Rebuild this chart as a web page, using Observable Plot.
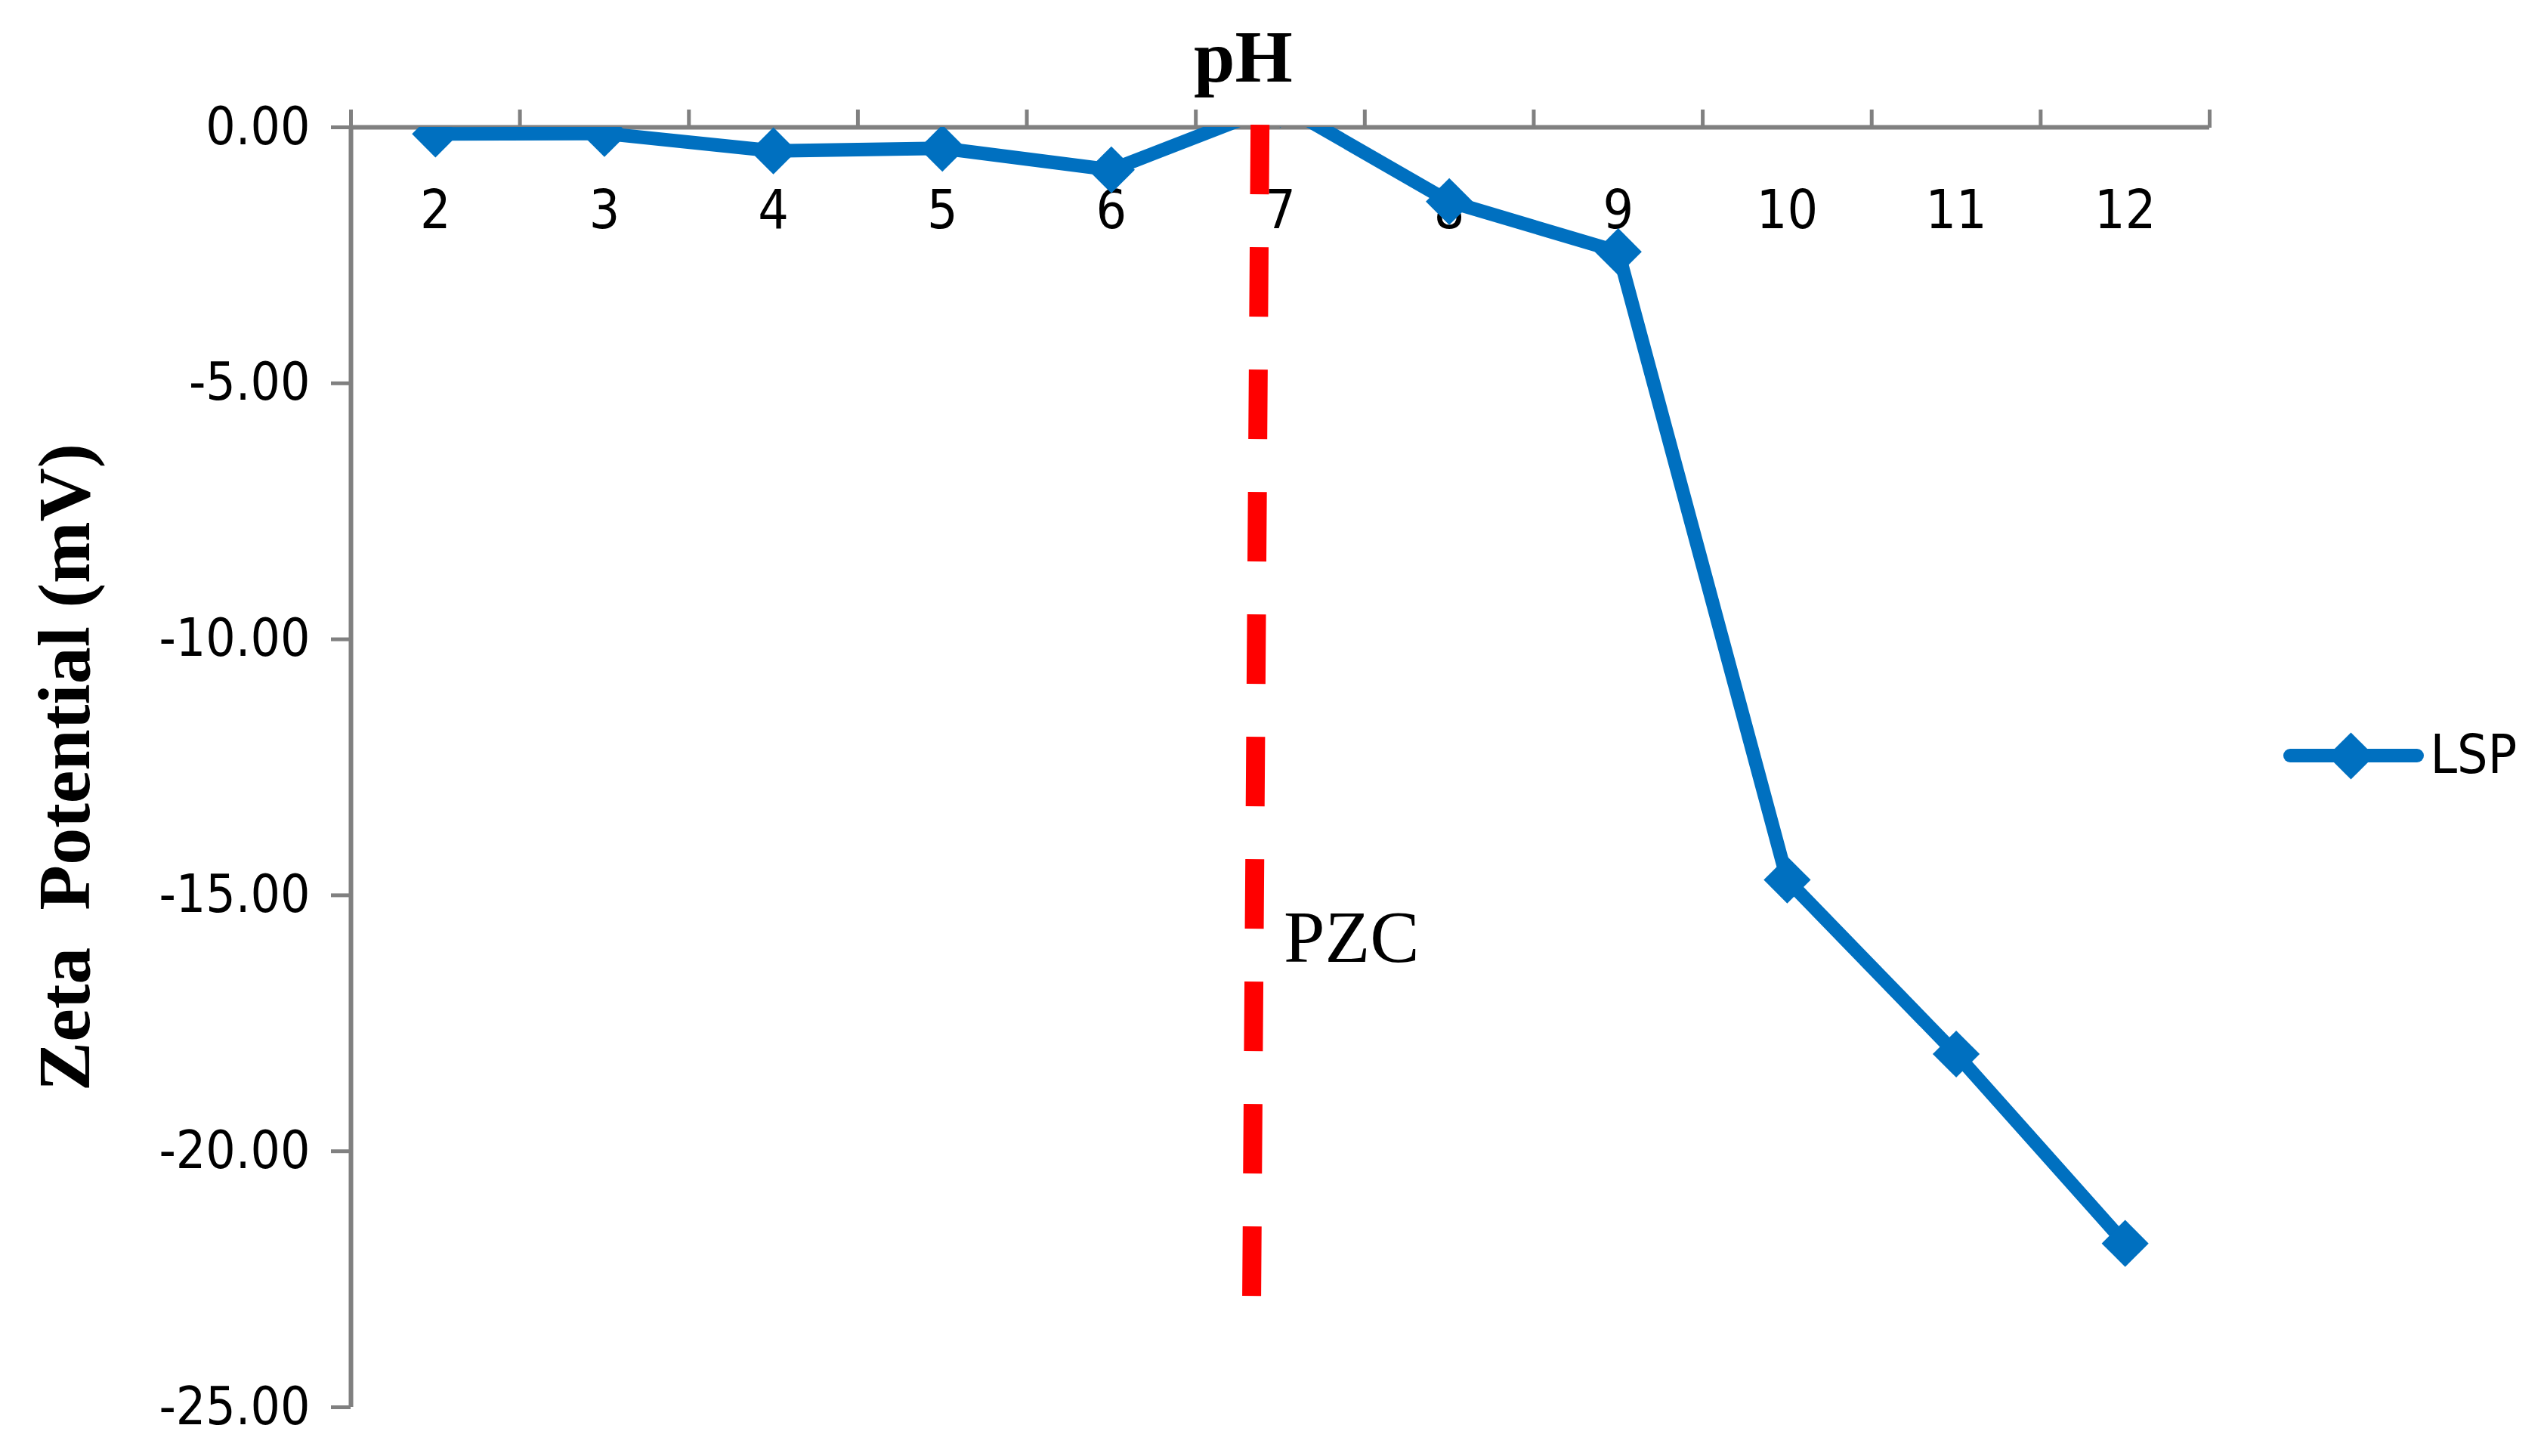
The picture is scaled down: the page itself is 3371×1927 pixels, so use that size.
<!DOCTYPE html>
<html>
<head>
<meta charset="utf-8">
<script src="https://cdn.jsdelivr.net/npm/d3@7"></script>
<script src="https://cdn.jsdelivr.net/npm/@observablehq/plot@0.6"></script>
<style>
html,body{margin:0;padding:0;background:#fff;}
svg{display:block;}
</style>
</head>
<body>
<div id="chart"></div>
<script>
// ---- data ----
const pH = [2, 3, 4, 5, 6, 7, 8, 9, 10, 11, 12];
const zeta = [-0.13, -0.12, -0.46, -0.41, -0.83, 0.45, -1.45, -2.43, -14.7, -18.1, -21.8];
const yTicks = [0, -5, -10, -15, -20, -25];
const seriesName = "LSP";
const xTitle = "pH";
const yTitle = "Zeta  Potential (mV)";
const pzcLabel = "PZC";
const pzcLine = [{x1: 6.88, y1: 0.05, x2: 6.83, y2: -23.05}];
const pzcText = [{x: 7.02, y: -16.3, t: pzcLabel}];

// ---- style ----
const W = 3371, H = 1927;
const blue = "#0070C0", red = "#FF0000", gray = "#808080";
const sans = '"DejaVu Sans Condensed", "DejaVu Sans", sans-serif';
const serif = '"Liberation Serif", "Times New Roman", serif';

const data = pH.map((p, i) => ({pH: p, zeta: zeta[i]}));
const bounds = d3.range(1.5, 13, 1);

const chart = Plot.plot({
  width: W,
  height: H,
  marginTop: 168,
  marginBottom: 65,
  marginLeft: 464,
  marginRight: 447,
  style: {fontFamily: sans, fontStretch: "condensed", color: "#000", background: "#fff", overflow: "visible"},
  x: {type: "linear", domain: [1.5, 12.5], axis: null},
  y: {domain: [-25, 0], axis: null},
  marks: [
    Plot.ruleY([0], {stroke: gray, strokeWidth: 6}),
    Plot.ruleX([1.5], {stroke: gray, strokeWidth: 6}),
    Plot.axisX(bounds, {anchor: "top", tickSize: 24, tickFormat: () => "", stroke: gray, strokeWidth: 5, label: null}),
    Plot.axisY(yTicks, {anchor: "left", tickSize: 26, tickPadding: 28, tickFormat: d => d.toFixed(2),
      fontSize: 69, fontFamily: sans, fill: "#000", stroke: gray, strokeWidth: 5, label: null}),
    Plot.text(pH, {x: d => d, y: 0, text: d => String(d), dy: 133, lineAnchor: "bottom",
      fontSize: 71, fontFamily: sans, fill: "#000"}),
    Plot.line(data, {x: "pH", y: "zeta", stroke: blue, strokeWidth: 18, strokeLinejoin: "round", clip: true}),
    Plot.dot(data, {x: "pH", y: "zeta", symbol: "diamond2", r: 28, fill: blue, stroke: null, clip: true}),
    Plot.link(pzcLine, {x1: "x1", y1: "y1", x2: "x2", y2: "y2", stroke: red, strokeWidth: 25, strokeDasharray: "92,70", strokeLinecap: "butt"}),
    Plot.text(pzcText, {x: "x", y: "y", text: "t", textAnchor: "start", lineAnchor: "bottom",
      fontSize: 98, fontFamily: serif, fill: "#000"}),
    Plot.text([xTitle], {x: 6.78, y: 0, dy: -61, lineAnchor: "bottom", fontSize: 98, fontWeight: "bold", fontFamily: serif, fill: "#000"}),
    Plot.text([yTitle], {frameAnchor: "left", dx: -378, rotate: -90, textAnchor: "middle", lineAnchor: "middle",
      fontSize: 98, fontWeight: "bold", fontFamily: serif, fill: "#000"}),
    // legend (outside frame, right)
    Plot.dot([seriesName], {frameAnchor: "right", dx: 187, dy: -15, symbol: "diamond2", r: 28, fill: blue, stroke: null}),
    Plot.text([seriesName], {frameAnchor: "right", dx: 292, dy: -15, textAnchor: "start", lineAnchor: "middle",
      fontSize: 71, fontFamily: sans, fill: "#000"})
  ]
});

// legend line segment behind the marker
const svg = d3.select(chart);
const frameRight = W - 447, frameMid = (168 + (H - 65)) / 2;
svg.insert("line", ":scope > g:last-of-type")
  .attr("x1", frameRight + 107).attr("x2", frameRight + 275)
  .attr("y1", frameMid - 15).attr("y2", frameMid - 15)
  .attr("stroke", blue).attr("stroke-width", 18).attr("stroke-linecap", "round");
const dots = svg.selectAll(":scope > g[aria-label='dot']").nodes();
if (dots.length) chart.appendChild(dots[dots.length - 1]);

document.getElementById("chart").appendChild(chart);
</script>
</body>
</html>
